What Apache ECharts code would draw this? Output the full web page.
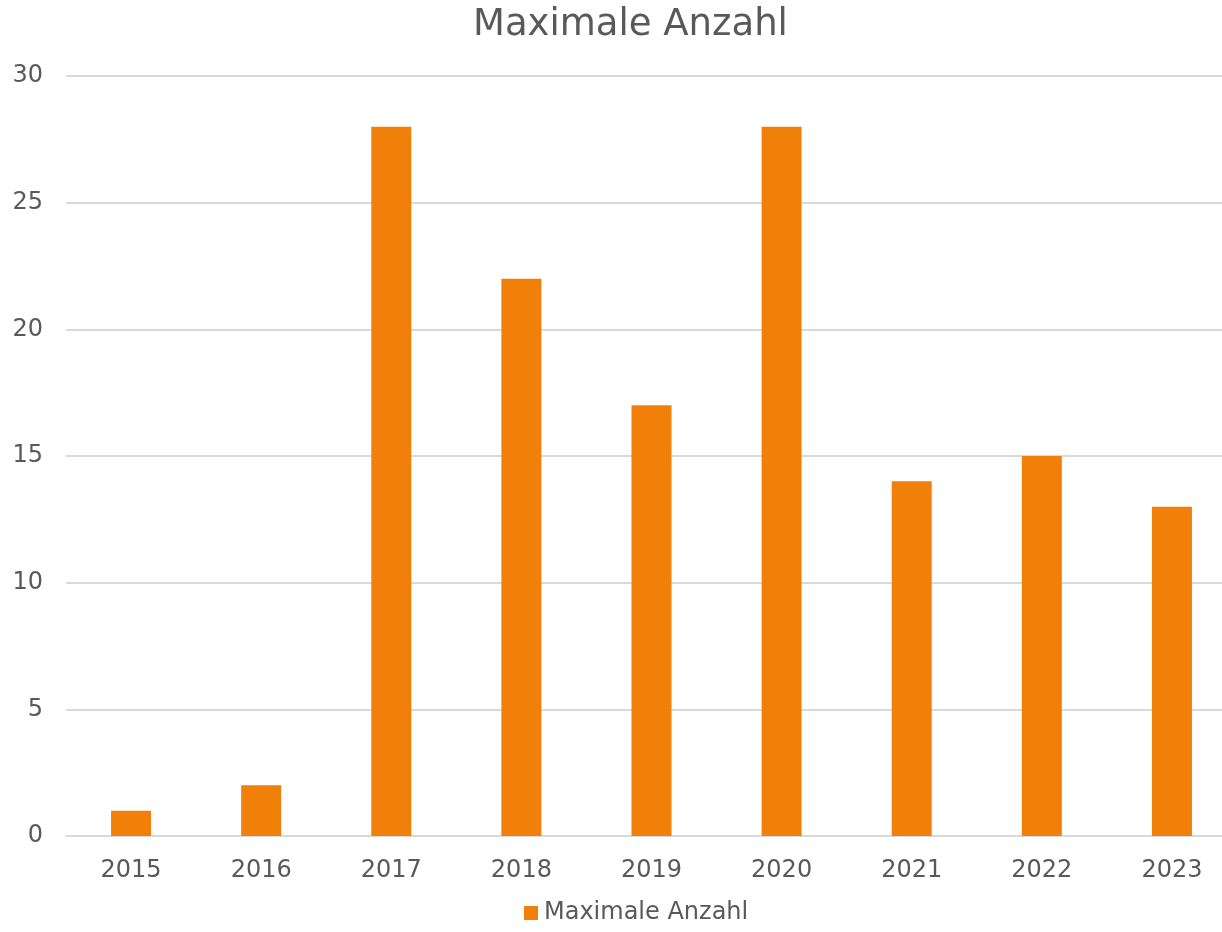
<!DOCTYPE html>
<html><head><meta charset="utf-8">
<script src="https://cdn.jsdelivr.net/npm/echarts@6/dist/echarts.min.js"></script>
<style>html,body{margin:0;padding:0;background:#fff}#c{width:1222px;height:932px}</style>
</head><body><div id="c"></div>
<script>
const categories = ['2015','2016','2017','2018','2019','2020','2021','2022','2023'];
const values = [1, 2, 28, 22, 17, 28, 14, 15, 13];
const seriesName = 'Maximale Anzahl';
const chartTitle = 'Maximale Anzahl';

const font = 'Verdana, "DejaVu Sans", sans-serif';
const chart = echarts.init(document.getElementById('c'));
chart.setOption({
  animation: false,
  title: { text: chartTitle, left: 468, top: 2,
    textStyle: { fontFamily: font, fontSize: 37, fontWeight: 'normal', color: '#595959' } },
  legend: { bottom: 2, left: 519, itemWidth: 14, itemHeight: 14, itemGap: 10,
    icon: 'rect',
    textStyle: { fontFamily: font, fontSize: 24, color: '#595959', padding: [0,0,0,1] },
    data: [seriesName] },
  grid: { left: 66, width: 1171, top: 76, bottom: 96, containLabel: false, outerBoundsMode: 'none' },
  xAxis: { type: 'category', data: categories,
    axisLine: { lineStyle: { color: '#d9d9d9', width: 2 } },
    axisTick: { show: false },
    axisLabel: { fontFamily: font, fontSize: 24, color: '#595959', margin: 23 } },
  yAxis: { type: 'value', min: 0, max: 30, interval: 5,
    axisLine: { show: false }, axisTick: { show: false },
    splitLine: { lineStyle: { color: '#d9d9d9', width: 2 } },
    axisLabel: { fontFamily: font, fontSize: 24, color: '#595959', margin: 23 } },
  series: [{ name: seriesName, type: 'bar', data: values, barWidth: 40,
    itemStyle: { color: '#F0800A' } }]
});
</script></body></html>
